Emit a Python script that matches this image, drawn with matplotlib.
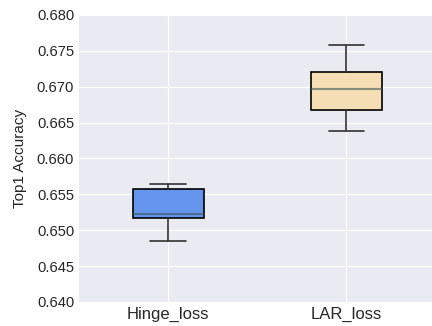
import numpy as np
import matplotlib.pyplot as plt

labels = ["Hinge_loss", "LAR_loss"]
whislo = [0.6485, 0.6638]
q1 = [0.6517, 0.6668]
med = [0.6523, 0.6697]
q3 = [0.6558, 0.6721]
whishi = [0.6564, 0.6758]
colors = ["#6495ED", "#F5DEB3"]

plt.style.use("seaborn-v0_8-darkgrid")
plt.rcParams['font.family'] = ['Liberation Sans', 'DejaVu Sans']

stats = []
for i in range(len(labels)):
    stats.append(dict(label=labels[i], whislo=whislo[i], q1=q1[i], med=med[i],
                      q3=q3[i], whishi=whishi[i], fliers=[]))

fig = plt.figure(figsize=(4.32, 3.26), dpi=100)
ax = fig.add_axes([0.183, 0.074, 0.817, 0.88])
bp = ax.bxp(stats, positions=[1, 2], widths=0.4, patch_artist=True,
            boxprops=dict(edgecolor='black', linewidth=1.2),
            whiskerprops=dict(color='#333333', linewidth=1.2),
            capprops=dict(color='#333333', linewidth=1.2),
            medianprops=dict(color='#3a5656', linewidth=1.5, alpha=0.6))
for patch, c in zip(bp['boxes'], colors):
    patch.set_facecolor(c)

ax.set_xlim(0.5, 2.48)
ax.set_ylim(0.640, 0.680)
ax.set_yticks(np.arange(0.640, 0.6801, 0.005))
ax.set_yticklabels(["%.3f" % v for v in np.arange(0.640, 0.6801, 0.005)])
ax.tick_params(axis='y', labelsize=10.6, colors='#262626')
ax.tick_params(axis='x', labelsize=12, colors='#262626')
ax.set_ylabel("Top1 Accuracy", fontsize=11, color='#262626', labelpad=7)

plt.savefig("out.png", dpi=100)
